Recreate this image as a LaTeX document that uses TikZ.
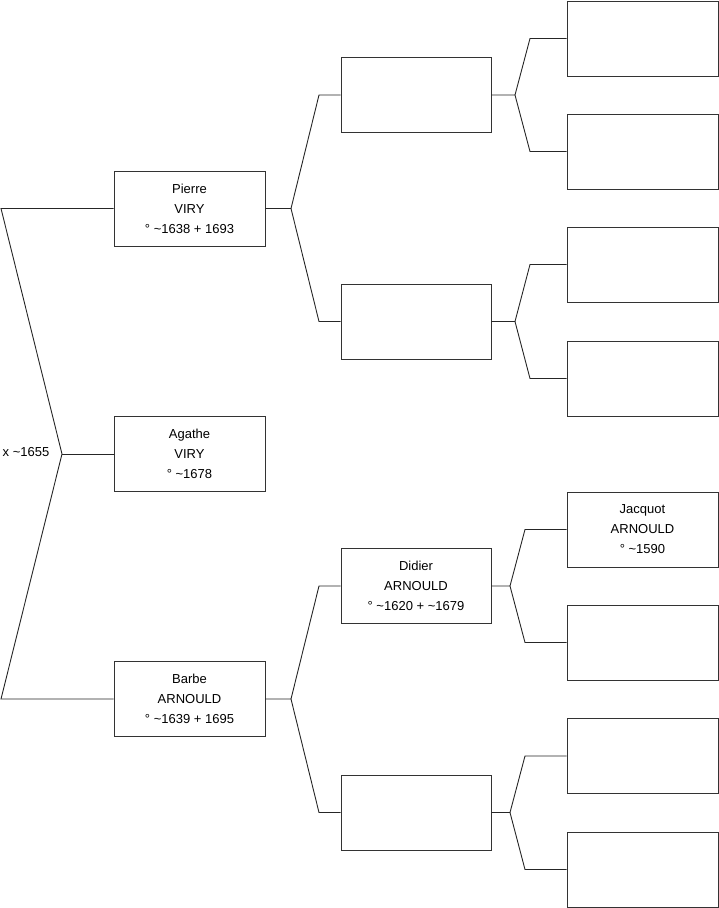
\documentclass[tikz,border=0pt]{standalone}
\usepackage{fontspec}
\setmainfont{Liberation Sans}
\begin{document}
\begin{tikzpicture}[x=1pt,y=-1pt,
  box/.style={draw=black!80, line width=0.9pt, minimum width=151pt, minimum height=75pt, inner sep=0pt, align=center, font=\fontsize{13}{20}\selectfont},
  boxb/.style={box, minimum width=150pt},
  link/.style={line width=0.9pt, draw=black!85},
  lbl/.style={inner sep=0pt, font=\fontsize{13}{20}\selectfont}]
\useasboundingbox (0,0) rectangle (719,908);
% generation 1
\node[box] (p) at (189.5,208.5) {Pierre\\VIRY\\° \textasciitilde1638 + 1693};
\node[box] (a) at (189.5,454) {Agathe\\VIRY\\° \textasciitilde1678};
\node[box] (b) at (189.5,699) {Barbe\\ARNOULD\\° \textasciitilde1639 + 1695};
% generation 2
\node[boxb] (g1) at (416,95) {};
\node[boxb] (g2) at (416,321.5) {};
\node[boxb] (g3) at (416,586) {Didier\\ARNOULD\\° \textasciitilde1620 + \textasciitilde1679};
\node[boxb] (g4) at (416,812.5) {};
% generation 3
\node[box] (h1) at (642.5,38.5) {};
\node[box] (h2) at (642.5,151.5) {};
\node[box] (h3) at (642.5,264.5) {};
\node[box] (h4) at (642.5,378.5) {};
\node[box] (h5) at (642.5,529.5) {Jacquot\\ARNOULD\\° \textasciitilde1590};
\node[box] (h6) at (642.5,642.5) {};
\node[box] (h7) at (642.5,756) {};
\node[box] (h8) at (642.5,869.5) {};
% marriage label
\node[lbl] (m) at (26,452) {x \textasciitilde1655};
% left connector
\coordinate (lp) at (1,208.5);
\coordinate (lb) at (1,699);
\coordinate (jL) at (62,454);
\draw[link] (p.west) -- (lp) -- (jL) -- (lb) -- (b.west);
\draw[link] (jL) -- (a.west);
% Pierre -> gen2
\coordinate (jp) at (291,208.5);
\draw[link] (p.east) -- (jp) -- (319,95) -- (g1.west);
\draw[link] (jp) -- (319,321.5) -- (g2.west);
% Barbe -> gen2
\coordinate (jb) at (291,699);
\draw[link] (b.east) -- (jb) -- (319,586) -- (g3.west);
\draw[link] (jb) -- (319,812.5) -- (g4.west);
% gen2 -> gen3
\coordinate (j1) at (515,95);
\draw[link] (g1.east) -- (j1) -- (530,38.5) -- (h1.west);
\draw[link] (j1) -- (530,151.5) -- (h2.west);
\coordinate (j2) at (515,321.5);
\draw[link] (g2.east) -- (j2) -- (530,264.5) -- (h3.west);
\draw[link] (j2) -- (530,378.5) -- (h4.west);
\coordinate (j3) at (510,586);
\draw[link] (g3.east) -- (j3) -- (525,529.5) -- (h5.west);
\draw[link] (j3) -- (525,642.5) -- (h6.west);
\coordinate (j4) at (510,812.5);
\draw[link] (g4.east) -- (j4) -- (525,756) -- (h7.west);
\draw[link] (j4) -- (525,869.5) -- (h8.west);
\end{tikzpicture}
\end{document}
